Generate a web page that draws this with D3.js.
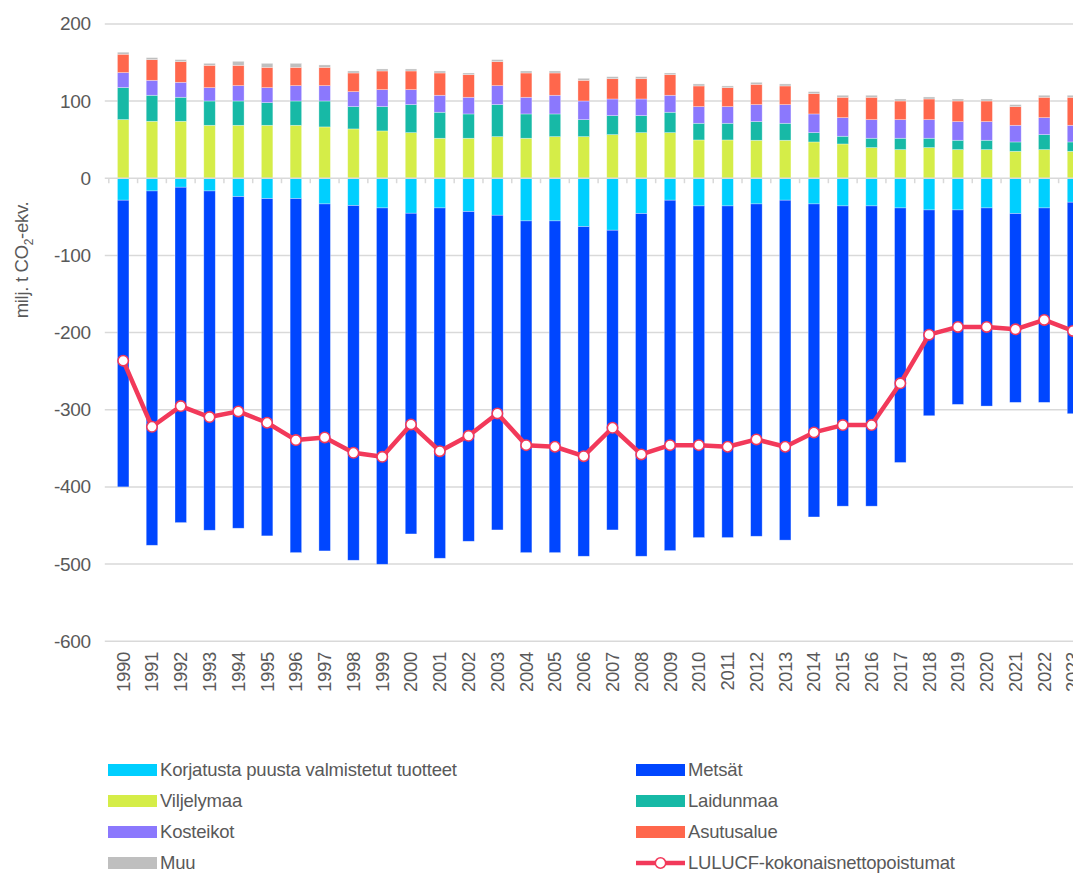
<!DOCTYPE html>
<html>
<head>
<meta charset="utf-8">
<script src="https://cdn.jsdelivr.net/npm/d3@7"></script>
<style>
  html, body { margin: 0; padding: 0; background: #fff; overflow: hidden; }
  svg { display: block; font-family: "Liberation Sans", Arial, sans-serif; }
</style>
</head>
<body>
<svg id="chart" width="1073" height="873"></svg>
<script>
// LULUCF-sektorin päästöt ja poistumat luokittain, milj. t CO2-ekv.
const years = [1990,1991,1992,1993,1994,1995,1996,1997,1998,1999,2000,2001,2002,2003,2004,2005,2006,2007,2008,2009,2010,2011,2012,2013,2014,2015,2016,2017,2018,2019,2020,2021,2022,2023];

const korjatustaPuusta = [-28.5,-16.5,-11.7,-16.5,-23.8,-26.4,-26.4,-33.3,-35.4,-38.5,-45.4,-38.5,-43.2,-48,-55.3,-55.3,-62.7,-67.4,-45.8,-28.5,-35.9,-35.9,-33.3,-28.5,-33.3,-35.9,-35.9,-38.5,-41.1,-41.1,-38.5,-45.8,-38.5,-31.1];
const metsat = [-371.5,-459.2,-434.6,-439.7,-429.8,-437.1,-458.8,-449.7,-459.7,-461.8,-415.6,-454,-427.3,-407.8,-429.9,-429.9,-427.2,-388.4,-444.1,-454.1,-429.8,-429.8,-430.7,-440.5,-405.7,-389.1,-389.1,-329.9,-266.7,-252,-256.8,-244.7,-252,-274.1];
const viljelymaa = [76,73.8,73.8,68.6,68.6,68.6,68.6,66.5,63.9,61.3,59.1,51.8,51.8,53.9,51.8,53.9,53.9,56.5,59.1,59.1,49.6,49.6,49.2,49.2,47,44.4,39.7,37.1,39.7,37.1,37.1,34.9,37.1,34.9];
const laidunmaa = [41.5,33.7,31.1,31.5,31.5,29.4,31.5,33.6,28.9,31.5,36.3,33.7,31.5,41.5,31.5,29.4,22,24.6,22,26.4,21.6,21.6,24.2,22,12.1,10,12.1,14.7,12.1,12.1,12.1,12.1,19.4,12.1];
const kosteikot = [19.4,19.4,19.4,17.3,19.9,19.4,19.9,19.9,19.4,22,19.4,22,21.6,24.6,21.6,24.2,24.2,21.6,21.6,22,21.6,21.6,22,24.2,24.2,24.1,24.1,24.1,24.1,24.2,24.2,21.6,22,21.6];
const asutusalue = [23.8,26.8,26.8,28.9,26.3,26.3,23.7,23.7,24.2,24.2,24.2,28.9,29.3,31.1,31.5,28.9,26.8,26.3,26.3,26.7,26.8,24.6,26.3,24.2,26.3,26.4,29,24.2,26.8,26.7,26.7,24.2,26.4,36.3];
const muu = [2.6,2.6,2.6,2.6,5.2,5.2,5.2,3.1,2.6,2.6,2.6,2.6,2.2,2.6,2.6,2.6,2.6,2.6,2.6,2.2,2.6,2.2,2.6,2.6,2.6,2.6,2.6,2.6,2.6,2.6,2.6,2.6,2.6,2.6];
const kokonaisnettopoistumat = [-236.4,-322.1,-295.3,-309.5,-302.2,-316.9,-339.4,-335.9,-355.8,-361,-319.1,-353.7,-333.8,-304.8,-345.9,-348,-360.2,-323.4,-358,-345.9,-345.9,-348,-338.5,-348,-329.4,-319.9,-319.9,-265.8,-202.7,-192.7,-192.7,-195.8,-183.6,-197.9];

const yTicks = [200,100,0,-100,-200,-300,-400,-500,-600];
const yTickLabels = ["200","100","0","-100","-200","-300","-400","-500","-600"];

const seriesNames = ["Korjatusta puusta valmistetut tuotteet","Metsät","Viljelymaa","Laidunmaa","Kosteikot","Asutusalue","Muu"];
const seriesValues = [korjatustaPuusta, metsat, viljelymaa, laidunmaa, kosteikot, asutusalue, muu];
const seriesColors = ["#00cfff","#0046ff","#d5ed48","#17b9a6","#8b78fd","#ff674c","#bfbfbf"];
const lineName = "LULUCF-kokonaisnettopoistumat";
const lineColor = "#f2395a";

const svg = d3.select("#chart");
const textColor = "#595959";
const gridColor = "#d9d9d9";

// Plot area (the category axis runs slightly past the right edge of the page)
const left = 108.8, right = 1087.4;
const x = d3.scaleBand().domain(years).range([left, right]).paddingInner(0.6).paddingOuter(0.3);
const y = d3.scaleLinear().domain([-600, 200]).range([641.2, 23.9]);

// Stacked table
const table = years.map((yr, i) => {
  const row = { year: yr };
  seriesNames.forEach((n, j) => row[n] = seriesValues[j][i]);
  return row;
});
const stacked = d3.stack().keys(seriesNames).offset(d3.stackOffsetDiverging)(table);

// Horizontal gridlines
svg.append("g").selectAll("line").data(yTicks.filter(t => t !== 0)).join("line")
  .attr("x1", left - 4).attr("x2", right)
  .attr("y1", d => y(d)).attr("y2", d => y(d))
  .attr("stroke", gridColor).attr("stroke-width", 1.5);

// Y axis labels (plain hyphen for negatives)
const yAxis = d3.axisLeft(y).tickValues(yTicks).tickSize(0).tickPadding(18)
  .tickFormat(d => yTickLabels[yTicks.indexOf(d)]);
const yg = svg.append("g").attr("transform", `translate(${left},0)`).call(yAxis);
yg.select(".domain").remove();
yg.selectAll("text").attr("fill", textColor).attr("font-size", 19)
  .attr("font-family", "'Liberation Sans', Arial, sans-serif").attr("letter-spacing", -0.3);

// Y axis title
const title = svg.append("text")
  .attr("transform", "translate(28,260) rotate(-90)")
  .attr("text-anchor", "middle").attr("fill", textColor).attr("font-size", 18.5)
  .attr("letter-spacing", -0.3);
title.append("tspan").text("milj. t CO");
title.append("tspan").attr("font-size", 12).attr("dy", 5).text("2");
title.append("tspan").attr("dy", -5).text("-ekv.");

// Bars
svg.append("g").selectAll("g").data(stacked).join("g")
  .attr("fill", (d, i) => seriesColors[i])
  .selectAll("rect").data(d => d).join("rect")
  .attr("x", d => x(d.data.year))
  .attr("width", x.bandwidth())
  .attr("y", d => y(Math.max(d[0], d[1])))
  .attr("height", d => Math.abs(y(d[0]) - y(d[1])))
  .attr("stroke", "#ffffff").attr("stroke-opacity", 0.45).attr("stroke-width", 0.7);

// Zero line with category ticks
const step = x.step();
svg.append("line").attr("x1", left - 4).attr("x2", right)
  .attr("y1", y(0)).attr("y2", y(0)).attr("stroke", gridColor).attr("stroke-width", 1.5);
svg.append("g").selectAll("line").data(d3.range(years.length + 1)).join("line")
  .attr("x1", i => left + i * step).attr("x2", i => left + i * step)
  .attr("y1", y(0)).attr("y2", y(0) + 5)
  .attr("stroke", gridColor).attr("stroke-width", 1.5);

// Year labels
svg.append("g").selectAll("text").data(years).join("text")
  .attr("transform", d => `translate(${x(d) + x.bandwidth() / 2},652) rotate(-90)`)
  .attr("dy", "0.35em").attr("text-anchor", "end")
  .attr("fill", textColor).attr("font-size", 18.5).attr("letter-spacing", -0.3)
  .text(d => d);

// Total net removals line
const cx = d => x(d) + x.bandwidth() / 2;
svg.append("path")
  .datum(years.map((yr, i) => [cx(yr), y(kokonaisnettopoistumat[i])]))
  .attr("d", d3.line())
  .attr("fill", "none").attr("stroke", lineColor).attr("stroke-width", 4.5)
  .attr("stroke-linejoin", "round");
svg.append("g").selectAll("circle").data(years).join("circle")
  .attr("cx", d => cx(d)).attr("cy", (d, i) => y(kokonaisnettopoistumat[i]))
  .attr("r", 5.2).attr("fill", "#fff").attr("stroke", lineColor).attr("stroke-width", 1.6);

// Legend
const legendItems = [
  { name: seriesNames[0], color: seriesColors[0], col: 0, row: 0 },
  { name: seriesNames[1], color: seriesColors[1], col: 1, row: 0 },
  { name: seriesNames[2], color: seriesColors[2], col: 0, row: 1 },
  { name: seriesNames[3], color: seriesColors[3], col: 1, row: 1 },
  { name: seriesNames[4], color: seriesColors[4], col: 0, row: 2 },
  { name: seriesNames[5], color: seriesColors[5], col: 1, row: 2 },
  { name: seriesNames[6], color: seriesColors[6], col: 0, row: 3 },
  { name: lineName, color: lineColor, col: 1, row: 3, line: true }
];
const colX = [108, 636], rowY0 = 770, rowStep = 31;
const lg = svg.append("g").selectAll("g").data(legendItems).join("g")
  .attr("transform", d => `translate(${colX[d.col]},${rowY0 + d.row * rowStep})`);
lg.filter(d => !d.line).append("rect")
  .attr("x", 0).attr("y", -6).attr("width", 49).attr("height", 12).attr("fill", d => d.color);
const ll = lg.filter(d => d.line);
ll.append("line").attr("x1", 0).attr("x2", 49).attr("y1", 0).attr("y2", 0)
  .attr("stroke", lineColor).attr("stroke-width", 4.5);
ll.append("circle").attr("cx", 24.5).attr("cy", 0).attr("r", 5.2)
  .attr("fill", "#fff").attr("stroke", lineColor).attr("stroke-width", 1.6);
lg.append("text").attr("x", 52).attr("y", 0).attr("dy", "0.35em")
  .attr("fill", textColor).attr("font-size", 18.5).attr("letter-spacing", -0.2)
  .text(d => d.name);
</script>
</body>
</html>
